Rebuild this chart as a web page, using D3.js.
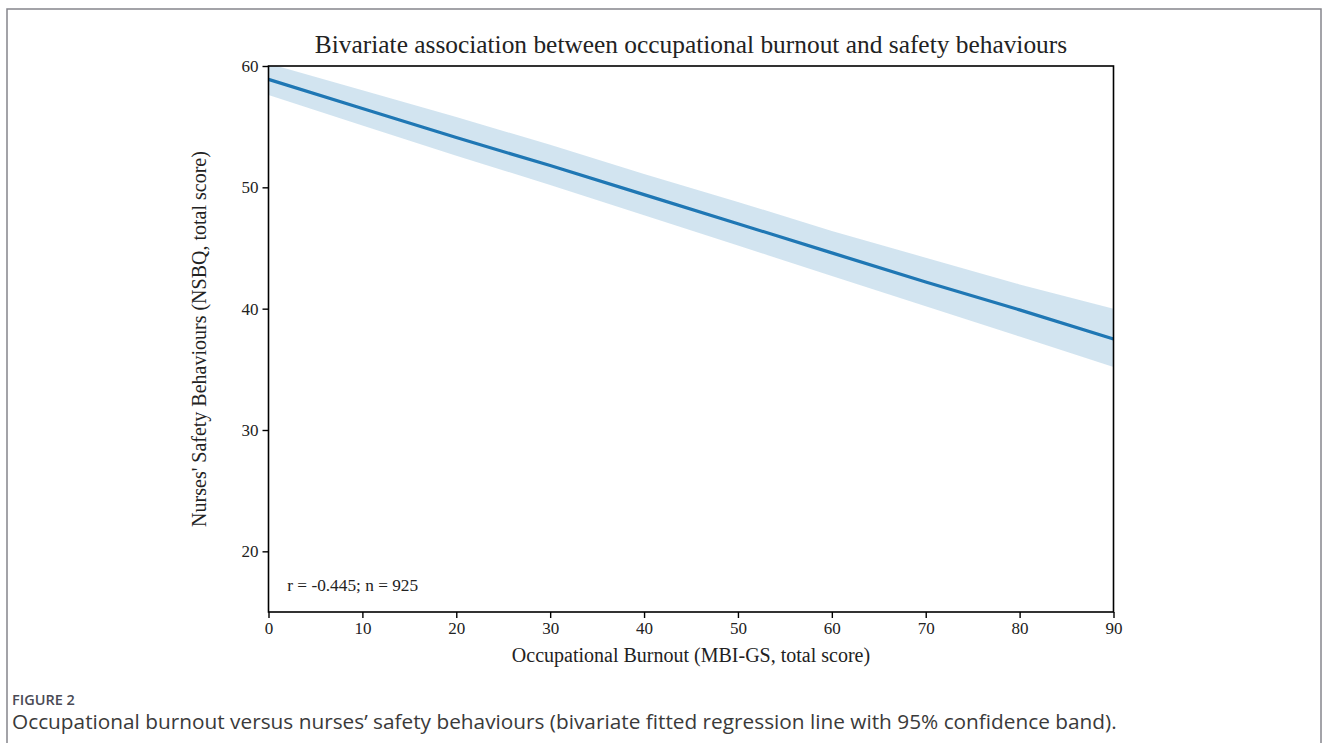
<!DOCTYPE html>
<html>
<head>
<meta charset="utf-8">
<script src="https://cdn.jsdelivr.net/npm/d3@7"></script>
<style>
  html, body { margin: 0; padding: 0; background: #fff; }
  svg { display: block; }
</style>
</head>
<body>
<svg id="chart" width="1329" height="743"></svg>
<script>
// ---- data ----
const burnout = [0, 10, 20, 30, 40, 50, 60, 70, 80, 90];
const fitted  = [58.9, 56.5, 54.1, 51.8, 49.4, 47.0, 44.6, 42.2, 39.9, 37.5];
const upper   = [60.2, 58.0, 55.8, 53.5, 51.1, 48.8, 46.4, 44.2, 42.0, 40.0];
const lower   = [57.6, 55.1, 52.6, 50.2, 47.7, 45.2, 42.7, 40.2, 37.7, 35.2];
const xTicks  = [0, 10, 20, 30, 40, 50, 60, 70, 80, 90];
const yTicks  = [20, 30, 40, 50, 60];
const xDomain = [0, 90];
const yDomain = [15, 60];
const titleText = "Bivariate association between occupational burnout and safety behaviours";
const xLabel = "Occupational Burnout (MBI-GS, total score)";
const yLabel = "Nurses' Safety Behaviours (NSBQ, total score)";
const statText = "r = -0.445; n = 925";
const figLabel = "FIGURE 2";
const captionText = "Occupational burnout versus nurses\u2019 safety behaviours (bivariate fitted regression line with 95% confidence band).";

const svg = d3.select("#chart");
const m = { left: 268.5, right: 1113.5, top: 66, bottom: 612 };
const serif = "'Liberation Serif', 'Times New Roman', serif";

// outer frame
svg.append("rect").attr("x", 7).attr("y", 9).attr("width", 1314).attr("height", 760)
  .attr("fill", "none").attr("stroke", "#85858c").attr("stroke-width", 1.5);

const x = d3.scaleLinear().domain(xDomain).range([m.left, m.right]);
const y = d3.scaleLinear().domain(yDomain).range([m.bottom, m.top]);

svg.append("clipPath").attr("id", "clip").append("rect")
  .attr("x", m.left).attr("y", m.top).attr("width", m.right - m.left).attr("height", m.bottom - m.top);

const pts = burnout.map((b, i) => ({ b, f: fitted[i], u: upper[i], l: lower[i] }));
const g = svg.append("g").attr("clip-path", "url(#clip)");
g.append("path").datum(pts)
  .attr("d", d3.area().x(d => x(d.b)).y0(d => y(d.l)).y1(d => y(d.u)))
  .attr("fill", "#1f77b4").attr("fill-opacity", 0.2);
g.append("path").datum(pts)
  .attr("d", d3.line().x(d => x(d.b)).y(d => y(d.f)))
  .attr("fill", "none").attr("stroke", "#1f77b4").attr("stroke-width", 3.2);

// axes
const xa = svg.append("g").attr("transform", `translate(0,${m.bottom})`)
  .call(d3.axisBottom(x).tickValues(xTicks).tickSize(6).tickPadding(4).tickFormat(d3.format("d")));
const ya = svg.append("g").attr("transform", `translate(${m.left},0)`)
  .call(d3.axisLeft(y).tickValues(yTicks).tickSize(6).tickPadding(4).tickFormat(d3.format("d")));
[xa, ya].forEach(a => {
  a.select(".domain").remove();
  a.selectAll(".tick line").attr("stroke", "#000").attr("stroke-width", 1.4);
  a.selectAll(".tick text").attr("fill", "#222").style("font-family", serif).style("font-size", "17px");
});

// frame box
svg.append("rect").attr("x", m.left).attr("y", m.top).attr("width", m.right - m.left).attr("height", m.bottom - m.top)
  .attr("fill", "none").attr("stroke", "#000").attr("stroke-width", 1.6);

// texts
svg.append("text").attr("x", (m.left + m.right) / 2).attr("y", 53).attr("text-anchor", "middle")
  .style("font-family", serif).style("font-size", "25.4px").attr("fill", "#222").text(titleText);
svg.append("text").attr("x", (m.left + m.right) / 2).attr("y", 662).attr("text-anchor", "middle")
  .style("font-family", serif).style("font-size", "20px").attr("fill", "#222").text(xLabel);
svg.append("text").attr("transform", `translate(206,${(m.top + m.bottom) / 2}) rotate(-90)`).attr("text-anchor", "middle")
  .style("font-family", serif).style("font-size", "20px").attr("fill", "#222").text(yLabel);
svg.append("text").attr("x", x(2)).attr("y", 591)
  .style("font-family", serif).style("font-size", "17.3px").attr("fill", "#222").text(statText);

svg.append("text").attr("x", 12).attr("y", 705)
  .style("font-family", "'Open Sans', sans-serif").style("font-size", "14.5px").style("font-weight", 600)
  .attr("fill", "#4a4a55").text(figLabel);
svg.append("text").attr("x", 12).attr("y", 729)
  .style("font-family", "'Open Sans', sans-serif").style("font-size", "20.8px")
  .attr("fill", "#3a3a3a").text(captionText);
</script>
</body>
</html>
